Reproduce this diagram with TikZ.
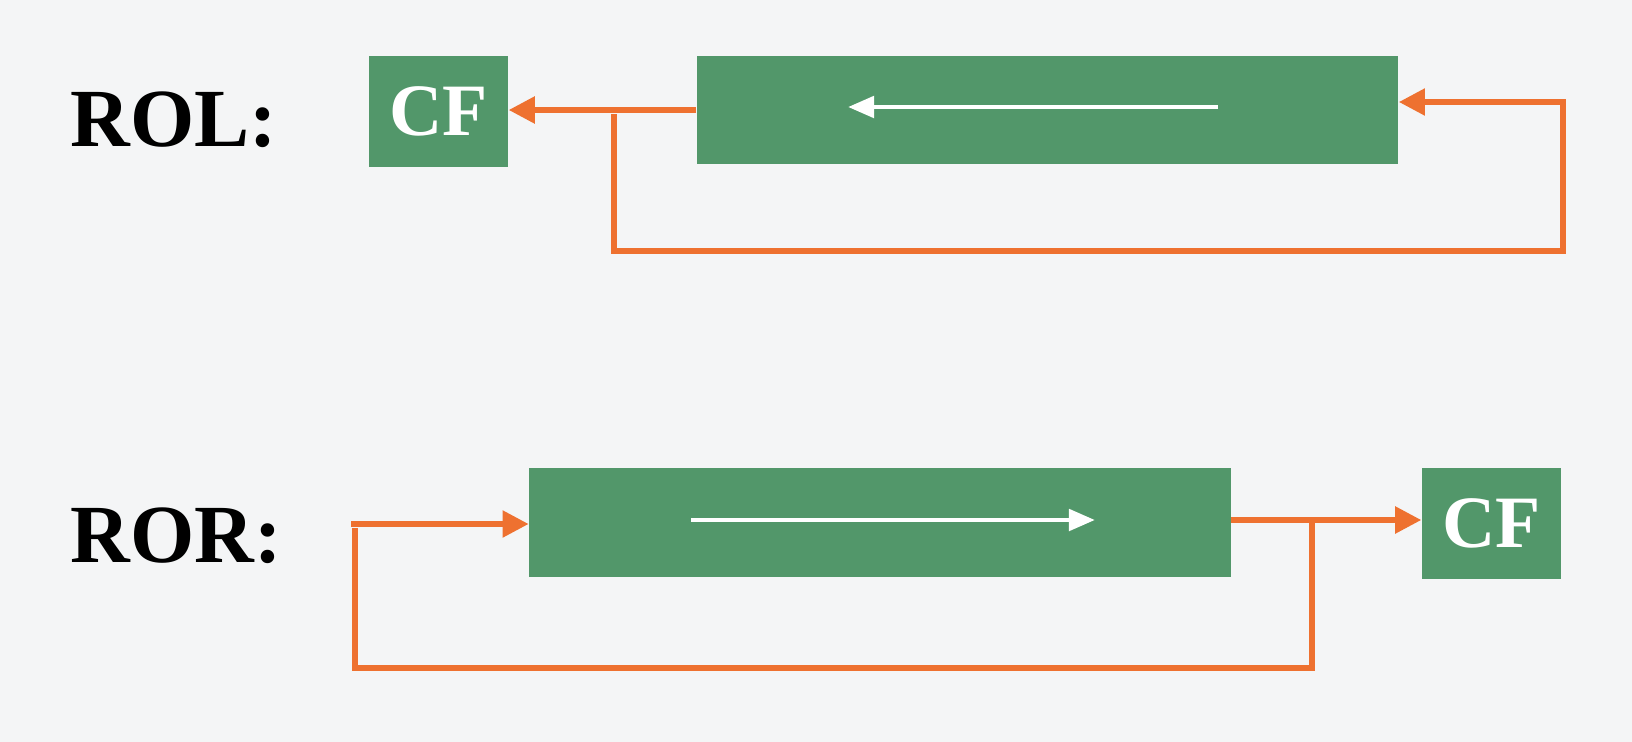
\documentclass[tikz,border=0pt]{standalone}
\usepackage{fontspec}
\setmainfont{Liberation Serif}
\usepackage{tikz}
\usepackage{xcolor}
\usetikzlibrary{arrows.meta}
\definecolor{boxgreen}{RGB}{82,151,106}
\definecolor{lineorange}{RGB}{238,113,48}
\definecolor{skybg}{RGB}{244,245,246}

\begin{document}
\begin{tikzpicture}[x=0.01cm, y=-0.01cm,
    bar/.style={fill=boxgreen, minimum width=7.01cm, minimum height=1.08cm, inner sep=0pt},
    cfbox/.style={fill=boxgreen, text=white, font=\fontsize{21}{25}\selectfont\bfseries, minimum width=1.39cm, minimum height=1.11cm, inner sep=0pt},
    lbl/.style={anchor=base west, inner sep=0pt, font=\fontsize{23.5}{28}\selectfont\bfseries},
    flow/.style={draw=lineorange, line width=1.5pt, -{Triangle[length=0.26cm,width=0.26cm]}},
    fback/.style={draw=lineorange, line width=1.5pt},
    dirarrow/.style={draw=white, line width=1.4pt, -{Triangle[length=0.26cm,width=0.21cm]}}]
                \fill[skybg] (0, 0) rectangle (1632, 742);
                \useasboundingbox (0, 0) rectangle (1632, 742);
                % rotate left
                \node[lbl] (rollbl) at (70, 146) {ROL:};
                \node[cfbox] (rolcf) at (438.5, 111.5) {CF};
                \node[bar] (rolbar) at (1047.5, 110) {};
                \coordinate (rolfrom) at (1218, 107);
                \coordinate (rolto) at (848, 107);
                \coordinate (roltap) at (614, 114);
                \coordinate (rolcorner) at (1563, 251);
                \coordinate (rolret) at (1563, 102);
                \draw[dirarrow] (rolfrom) -- (rolto);
                \draw[flow] (rolbar.west) -- (rolbar.west -| rolcf.east);
                \draw[flow] (roltap) |- (rolcorner) -- (rolret) -- (rolret -| rolbar.east);
                % rotate right
                \node[lbl] (rorlbl) at (70, 562) {ROR:};
                \node[bar] (rorbar) at (880, 522.5) {};
                \node[cfbox] (rorcf) at (1491.5, 523.5) {CF};
                \coordinate (rorfrom) at (691, 520);
                \coordinate (rorto) at (1095, 520);
                \coordinate (rorstart) at (351, 524);
                \coordinate (rortap) at (1312, 520);
                \coordinate (rorlow) at (355, 668);
                \coordinate (rorend) at (355, 528);
                \draw[dirarrow] (rorfrom) -- (rorto);
                \draw[flow] (rorstart) -- (rorstart -| rorbar.west);
                \draw[flow] (rorbar.east |- rortap) -- (rortap -| rorcf.west);
                \draw[fback] (rortap) |- (rorlow) -- (rorend);
            \end{tikzpicture}
\end{document}
